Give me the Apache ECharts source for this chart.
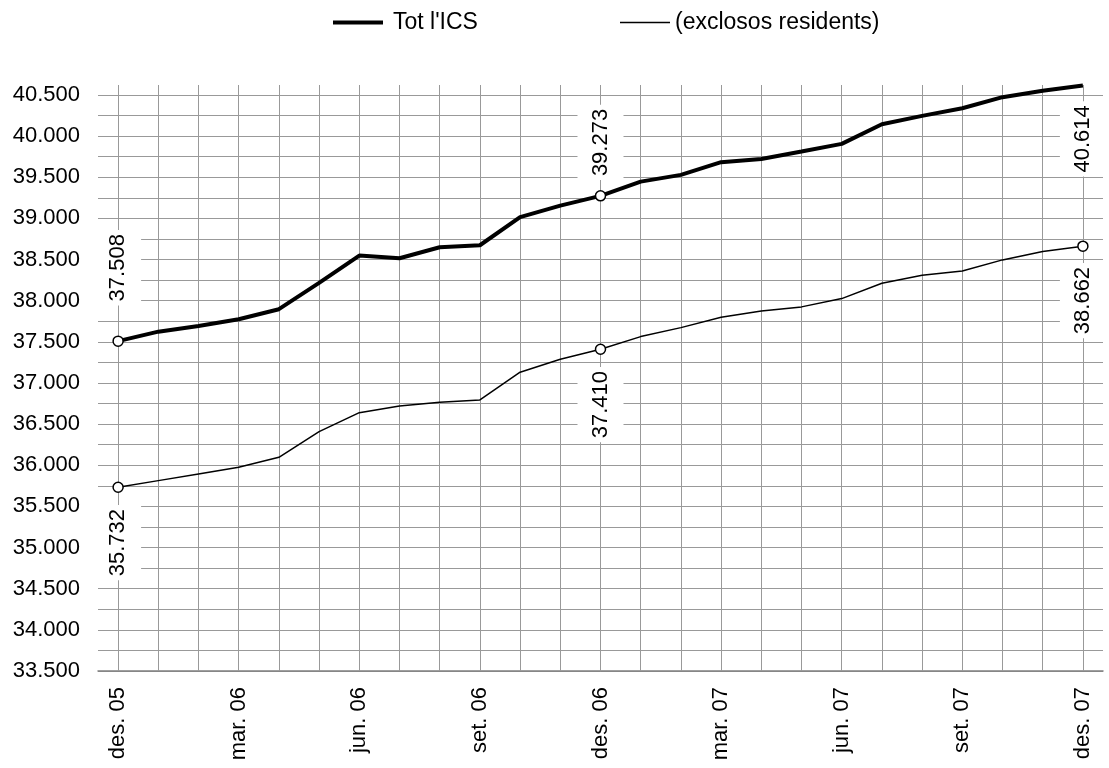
<!DOCTYPE html>
<html>
<head>
<meta charset="utf-8">
<script src="https://cdn.jsdelivr.net/npm/echarts@6/dist/echarts.min.js"></script>
<style>
html,body{margin:0;padding:0;background:#fff;}
#chart{width:1109px;height:768px;}
</style>
</head>
<body>
<div id="chart"></div>
<script>
var categories = ['des. 05','gen. 06','febr. 06','mar. 06','abr. 06','maig 06','jun. 06','jul. 06','ag. 06','set. 06','oct. 06','nov. 06','des. 06','gen. 07','febr. 07','mar. 07','abr. 07','maig 07','jun. 07','jul. 07','ag. 07','set. 07','oct. 07','nov. 07','des. 07'];
var totICS = [37508,37623,37693,37774,37896,38215,38547,38515,38649,38673,39014,39155,39273,39446,39528,39682,39722,39811,39905,40144,40245,40338,40472,40549,40614];
var exclososResidents = [35732,35813,35894,35976,36097,36408,36639,36720,36765,36793,37130,37288,37410,37563,37672,37798,37875,37924,38025,38212,38309,38361,38495,38596,38662];
var seriesNames = ["Tot l'ICS", "(exclosos residents)"];
var labeledIdx = [0, 12, 24];

var FONT = 'Liberation Sans, Arial, sans-serif';
function fmt(v){ return String(v).replace(/\B(?=(\d{3})+(?!\d))/g, '.'); }

function buildData(values, labelCfg){
  return values.map(function(v, i){
    var k = labeledIdx.indexOf(i);
    if (k < 0) return v;
    var c = labelCfg[k];
    var lbl = {
      show: true, rotate: 90, position: c.pos, distance: c.dist,
      align: c.pos === 'top' ? 'left' : 'right', verticalAlign: 'middle',
      color: '#000', fontSize: 22, fontFamily: FONT,
      backgroundColor: '#fff', padding: [12, 4, 12, 4],
      formatter: function(p){ return fmt(p.value); }
    };
    var item = { value: v, symbol: 'circle', symbolSize: 10, label: lbl };
    if (c.hide) item.itemStyle = { color: 'transparent', borderColor: 'transparent' };
    return item;
  });
}

var chart = echarts.init(document.getElementById('chart'));
chart.setOption({
  animation: false,
  backgroundColor: '#fff',
  legend: [{
    left: 328, top: 6, itemWidth: 50, itemHeight: 4, icon: 'rect',
    itemStyle: { color: '#000', borderWidth: 0 },
    data: [seriesNames[0]],
    textStyle: { fontSize: 23, fontFamily: FONT, color: '#000', padding: [0,0,0,5] }
  },{
    left: 615, top: 6, itemWidth: 50, itemHeight: 1.5, icon: 'rect',
    itemStyle: { color: '#000', borderWidth: 0 },
    data: [seriesNames[1]],
    textStyle: { fontSize: 23, fontFamily: FONT, color: '#000' }
  }],
  grid: { left: 98, right: 6, top: 85, bottom: 97, containLabel: false },
  xAxis: {
    type: 'category', data: categories, boundaryGap: true,
    axisLine: { lineStyle: { color: '#808080', width: 1.5 } },
    axisTick: { show: false },
    splitLine: { show: false },
    axisLabel: { interval: 2, rotate: 90, margin: 16, color: '#000', fontSize: 22, fontFamily: FONT }
  },
  yAxis: {
    type: 'value', min: 33500, max: 40620, interval: 250,
    axisLine: { show: false }, axisTick: { show: false },
    splitLine: { show: true, showMaxLine: false, lineStyle: { color: '#999', width: 1 } },
    axisLabel: {
      margin: 18, color: '#000', fontSize: 22, fontFamily: FONT, showMaxLabel: false,
      formatter: function(v){ return (v % 500 === 0) ? fmt(v) : ''; }
    }
  },
  series: [{
    name: seriesNames[0], type: 'line', symbol: 'none', showSymbol: true,
    data: buildData(totICS, [{pos:'top', dist:30}, {pos:'top', dist:10}, {pos:'bottom', dist:10, hide:true}]),
    lineStyle: { color: '#000', width: 4 },
    itemStyle: { color: '#fff', borderColor: '#000', borderWidth: 1.5 },
    z: 4,
    markLine: {
      silent: true, symbol: ['none','none'], z: 1,
      label: { show: false },
      lineStyle: { color: '#999', width: 1, type: 'solid' },
      data: categories.map(function(c){ return { xAxis: c }; })
    }
  },{
    name: seriesNames[1], type: 'line', symbol: 'none', showSymbol: true,
    data: buildData(exclososResidents, [{pos:'bottom', dist:12}, {pos:'bottom', dist:12}, {pos:'bottom', dist:11}]),
    lineStyle: { color: '#000', width: 1.5 },
    itemStyle: { color: '#fff', borderColor: '#000', borderWidth: 1.5 },
    z: 4
  }]
});
</script>
</body>
</html>
